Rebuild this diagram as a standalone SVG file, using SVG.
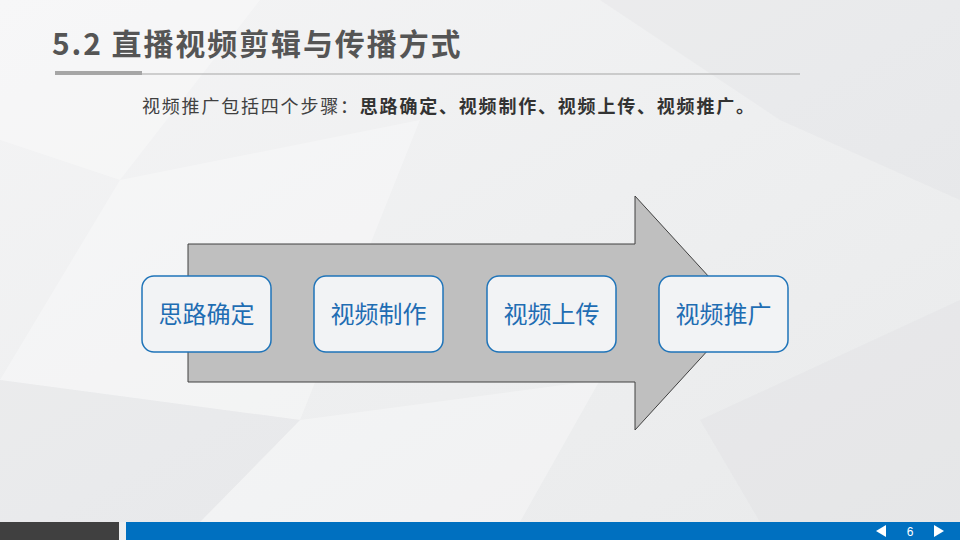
<svg xmlns="http://www.w3.org/2000/svg" width="960" height="540" viewBox="0 0 960 540">
  <style>
    .cjk { font-family: "Noto Sans CJK SC", "Noto Sans", sans-serif; }
    .box { fill: #f2f3f5; stroke: #1f74b9; stroke-width: 1.5; }
    .lbl { fill: #1f6db3; font-size: 24px; text-anchor: middle; }
    .facet { fill: #ffffff; opacity: 0.3; }
    .shade { fill: #d8d9db; opacity: 0.2; }
  </style>
  <defs>
    <linearGradient id="bg" x1="0" y1="0" x2="1" y2="1">
      <stop offset="0" stop-color="#f4f4f5"/>
      <stop offset="0.5" stop-color="#eeeff0"/>
      <stop offset="1" stop-color="#e9eaeb"/>
    </linearGradient>
  </defs>
  <rect width="960" height="540" fill="url(#bg)"/>
  <g id="background-facets">
    <polygon class="facet" points="0,0 260,0 120,180 0,140"/>
    <polygon class="shade" points="600,0 960,0 960,200 780,120"/>
    <polygon class="facet" points="120,180 420,120 300,420 0,380"/>
    <polygon class="shade" points="700,420 960,300 960,522 760,522"/>
    <polygon class="facet" points="300,420 600,380 520,522 200,522"/>
    <polygon class="shade" points="0,380 300,420 200,522 0,522"/>
  </g>

  <g id="title">
    <text x="52" y="55" class="cjk" font-size="30" font-weight="bold" fill="#555555" letter-spacing="1.9">5.2 直播视频剪辑与传播方式</text>
    <rect x="55" y="71" width="87" height="4" fill="#a6a6a6"/>
    <rect x="142" y="73.5" width="658" height="1" fill="#a6a6a6"/>
  </g>

  <g id="subtitle">
    <text x="142" y="113" class="cjk" font-size="18" fill="#404040" letter-spacing="1.8">视频推广包括四个步骤：<tspan font-weight="bold" fill="#333333">思路确定、视频制作、视频上传、视频推广。</tspan></text>
  </g>

  <g id="connectors">
    <polygon id="big-arrow" points="188,244 635,244 635,196 742,313 635,430 635,382 188,382" fill="#bfbfbf" stroke="#404040" stroke-width="1"/>
  </g>

  <g id="node-1">
    <rect class="box" x="142" y="276" width="129" height="76" rx="12"/>
    <text class="cjk lbl" x="206.5" y="323">思路确定</text>
  </g>
  <g id="node-2">
    <rect class="box" x="314" y="276" width="129" height="76" rx="12"/>
    <text class="cjk lbl" x="378.5" y="323">视频制作</text>
  </g>
  <g id="node-3">
    <rect class="box" x="487" y="276" width="129" height="76" rx="12"/>
    <text class="cjk lbl" x="551.5" y="323">视频上传</text>
  </g>
  <g id="node-4">
    <rect class="box" x="659" y="276" width="129" height="76" rx="12"/>
    <text class="cjk lbl" x="723.5" y="323">视频推广</text>
  </g>

  <g id="footer">
    <rect x="0" y="522" width="119" height="18" fill="#404040"/>
    <rect x="126" y="522" width="834" height="18" fill="#0070c0"/>
    <polygon points="876,531 886,525 886,537" fill="#ffffff"/>
    <text x="910" y="536" font-family="Liberation Sans, sans-serif" font-size="12" fill="#ffffff" text-anchor="middle">6</text>
    <polygon points="944,531 934,525 934,537" fill="#ffffff"/>
  </g>
</svg>
